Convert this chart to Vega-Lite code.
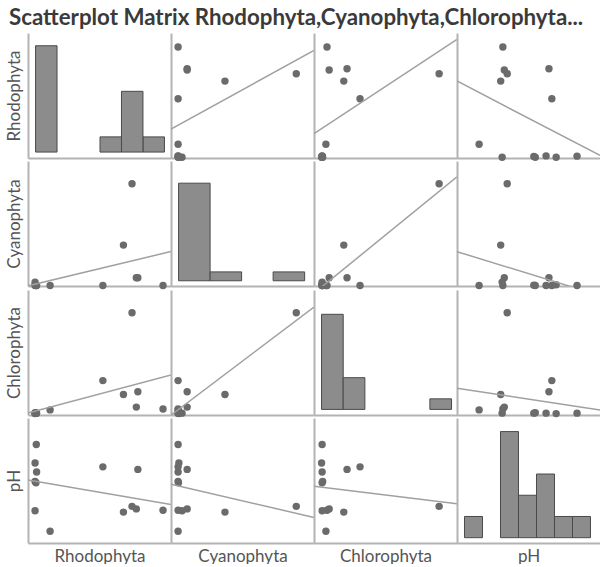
{
  "$schema": "https://vega.github.io/schema/vega-lite/v6.json",
  "padding": {"left": 5, "top": 6, "right": 0, "bottom": 0},
  "title": {"text": "Scatterplot Matrix Rhodophyta,Cyanophyta,Chlorophyta...", "anchor": "start", "frame": "bounds", "font": "Lato", "fontSize": 22.3, "fontWeight": "bold", "color": "#3a3a3a", "offset": 4, "dx": 4},
  "data": {"values": [
    {"Rhodophyta": 4.9, "Cyanophyta": 0, "Chlorophyta": 0.9, "pH": 6.96},
    {"Rhodophyta": 41.7, "Cyanophyta": 0, "Chlorophyta": 1.1, "pH": 7.29},
    {"Rhodophyta": 33.5, "Cyanophyta": 2.3, "Chlorophyta": 4.8, "pH": 7.93},
    {"Rhodophyta": 33.0, "Cyanophyta": 2.3, "Chlorophyta": 1.5, "pH": 7.31},
    {"Rhodophyta": 31.6, "Cyanophyta": 30.0, "Chlorophyta": 21.8, "pH": 7.35},
    {"Rhodophyta": 28.8, "Cyanophyta": 11.9, "Chlorophyta": 4.2, "pH": 7.26},
    {"Rhodophyta": 22.1, "Cyanophyta": 0, "Chlorophyta": 7.2, "pH": 7.97},
    {"Rhodophyta": 0, "Cyanophyta": 1.0, "Chlorophyta": 0.2, "pH": 7.28},
    {"Rhodophyta": 0.3, "Cyanophyta": 0.1, "Chlorophyta": 0.2, "pH": 7.72},
    {"Rhodophyta": 0, "Cyanophyta": 0, "Chlorophyta": 0.3, "pH": 7.74},
    {"Rhodophyta": 0.5, "Cyanophyta": 0, "Chlorophyta": 0.2, "pH": 7.89},
    {"Rhodophyta": 0, "Cyanophyta": 0.2, "Chlorophyta": 0.1, "pH": 8.03},
    {"Rhodophyta": 0.4, "Cyanophyta": 0, "Chlorophyta": 0.2, "pH": 8.32}
  ]},
  "columns": 4,
  "spacing": 0,
  "concat": [
    {"width": 143, "height": 125,
     "mark": {"type": "bar", "fill": "#8c8c8c", "stroke": "#4a4a4a", "strokeWidth": 1, "binSpacing": 0},
     "encoding": {
       "x": {"field": "Rhodophyta", "type": "quantitative", "bin": {"extent": [0, 42], "step": 7, "nice": false}, "scale": {"domain": [-2.3, 44.3], "nice": false, "zero": false}, "axis": {"title": null}},
       "y": {"aggregate": "count", "type": "quantitative", "scale": {"domain": [-0.39, 7.84], "nice": false, "zero": false}, "axis": {"title": "Rhodophyta"}}}},
    {"width": 143, "height": 125,
     "encoding": {
       "x": {"field": "Cyanophyta", "type": "quantitative", "scale": {"domain": [-1.8, 34.5], "nice": false, "zero": false}, "axis": {"title": null}},
       "y": {"field": "Rhodophyta", "type": "quantitative", "scale": {"domain": [-0.3, 47], "nice": false, "zero": false}, "axis": {"title": null}}},
     "layer": [
       {"mark": {"type": "circle", "size": 55, "color": "#6b6b6b", "opacity": 1}},
       {"transform": [{"regression": "Rhodophyta", "on": "Cyanophyta", "extent": [-1.8, 34.5]}], "mark": {"type": "line", "color": "#a0a0a0", "strokeWidth": 1.5, "clip": true}, "encoding": {}}]},
    {"width": 143, "height": 125,
     "encoding": {
       "x": {"field": "Chlorophyta", "type": "quantitative", "scale": {"domain": [-1.3, 25.1], "nice": false, "zero": false}, "axis": {"title": null}},
       "y": {"field": "Rhodophyta", "type": "quantitative", "scale": {"domain": [-0.3, 47], "nice": false, "zero": false}, "axis": {"title": null}}},
     "layer": [
       {"mark": {"type": "circle", "size": 55, "color": "#6b6b6b", "opacity": 1}},
       {"transform": [{"regression": "Rhodophyta", "on": "Chlorophyta", "extent": [-1.3, 25.1]}], "mark": {"type": "line", "color": "#a0a0a0", "strokeWidth": 1.5, "clip": true}, "encoding": {}}]},
    {"width": 143, "height": 125,
     "encoding": {
       "x": {"field": "pH", "type": "quantitative", "scale": {"domain": [6.653, 8.639], "nice": false, "zero": false}, "axis": {"title": null}},
       "y": {"field": "Rhodophyta", "type": "quantitative", "scale": {"domain": [-0.3, 47], "nice": false, "zero": false}, "axis": {"title": null}}},
     "layer": [
       {"mark": {"type": "circle", "size": 55, "color": "#6b6b6b", "opacity": 1}},
       {"transform": [{"regression": "Rhodophyta", "on": "pH", "extent": [6.653, 8.639]}], "mark": {"type": "line", "color": "#a0a0a0", "strokeWidth": 1.5, "clip": true}, "encoding": {}}]},

    {"width": 143, "height": 125,
     "encoding": {
       "x": {"field": "Rhodophyta", "type": "quantitative", "scale": {"domain": [-2.3, 44.3], "nice": false, "zero": false}, "axis": {"title": null}},
       "y": {"field": "Cyanophyta", "type": "quantitative", "scale": {"domain": [-0.15, 36.7], "nice": false, "zero": false}, "axis": {"title": "Cyanophyta"}}},
     "layer": [
       {"mark": {"type": "circle", "size": 55, "color": "#6b6b6b", "opacity": 1}},
       {"transform": [{"regression": "Cyanophyta", "on": "Rhodophyta", "extent": [-2.3, 44.3]}], "mark": {"type": "line", "color": "#a0a0a0", "strokeWidth": 1.5, "clip": true}, "encoding": {}}]},
    {"width": 143, "height": 125,
     "mark": {"type": "bar", "fill": "#8c8c8c", "stroke": "#4a4a4a", "strokeWidth": 1, "binSpacing": 0},
     "encoding": {
       "x": {"field": "Cyanophyta", "type": "quantitative", "bin": {"extent": [0, 32], "step": 8, "nice": false}, "scale": {"domain": [-1.8, 34.5], "nice": false, "zero": false}, "axis": {"title": null}},
       "y": {"aggregate": "count", "type": "quantitative", "scale": {"domain": [-0.59, 13.5], "nice": false, "zero": false}, "axis": {"title": null}}}},
    {"width": 143, "height": 125,
     "encoding": {
       "x": {"field": "Chlorophyta", "type": "quantitative", "scale": {"domain": [-1.3, 25.1], "nice": false, "zero": false}, "axis": {"title": null}},
       "y": {"field": "Cyanophyta", "type": "quantitative", "scale": {"domain": [-0.15, 36.7], "nice": false, "zero": false}, "axis": {"title": null}}},
     "layer": [
       {"mark": {"type": "circle", "size": 55, "color": "#6b6b6b", "opacity": 1}},
       {"transform": [{"regression": "Cyanophyta", "on": "Chlorophyta", "extent": [-1.3, 25.1]}], "mark": {"type": "line", "color": "#a0a0a0", "strokeWidth": 1.5, "clip": true}, "encoding": {}}]},
    {"width": 143, "height": 125,
     "encoding": {
       "x": {"field": "pH", "type": "quantitative", "scale": {"domain": [6.653, 8.639], "nice": false, "zero": false}, "axis": {"title": null}},
       "y": {"field": "Cyanophyta", "type": "quantitative", "scale": {"domain": [-0.15, 36.7], "nice": false, "zero": false}, "axis": {"title": null}}},
     "layer": [
       {"mark": {"type": "circle", "size": 55, "color": "#6b6b6b", "opacity": 1}},
       {"transform": [{"regression": "Cyanophyta", "on": "pH", "extent": [6.653, 8.639]}], "mark": {"type": "line", "color": "#a0a0a0", "strokeWidth": 1.5, "clip": true}, "encoding": {}}]},

    {"width": 143, "height": 125,
     "encoding": {
       "x": {"field": "Rhodophyta", "type": "quantitative", "scale": {"domain": [-2.3, 44.3], "nice": false, "zero": false}, "axis": {"title": null}},
       "y": {"field": "Chlorophyta", "type": "quantitative", "scale": {"domain": [-0.2, 26.7], "nice": false, "zero": false}, "axis": {"title": "Chlorophyta"}}},
     "layer": [
       {"mark": {"type": "circle", "size": 55, "color": "#6b6b6b", "opacity": 1}},
       {"transform": [{"regression": "Chlorophyta", "on": "Rhodophyta", "extent": [-2.3, 44.3]}], "mark": {"type": "line", "color": "#a0a0a0", "strokeWidth": 1.5, "clip": true}, "encoding": {}}]},
    {"width": 143, "height": 125,
     "encoding": {
       "x": {"field": "Cyanophyta", "type": "quantitative", "scale": {"domain": [-1.8, 34.5], "nice": false, "zero": false}, "axis": {"title": null}},
       "y": {"field": "Chlorophyta", "type": "quantitative", "scale": {"domain": [-0.2, 26.7], "nice": false, "zero": false}, "axis": {"title": null}}},
     "layer": [
       {"mark": {"type": "circle", "size": 55, "color": "#6b6b6b", "opacity": 1}},
       {"transform": [{"regression": "Chlorophyta", "on": "Cyanophyta", "extent": [-1.8, 34.5]}], "mark": {"type": "line", "color": "#a0a0a0", "strokeWidth": 1.5, "clip": true}, "encoding": {}}]},
    {"width": 143, "height": 125,
     "mark": {"type": "bar", "fill": "#8c8c8c", "stroke": "#4a4a4a", "strokeWidth": 1, "binSpacing": 0},
     "encoding": {
       "x": {"field": "Chlorophyta", "type": "quantitative", "bin": {"extent": [0, 24], "step": 4, "nice": false}, "scale": {"domain": [-1.3, 25.1], "nice": false, "zero": false}, "axis": {"title": null}},
       "y": {"aggregate": "count", "type": "quantitative", "scale": {"domain": [-0.53, 11.3], "nice": false, "zero": false}, "axis": {"title": null}}}},
    {"width": 143, "height": 125,
     "encoding": {
       "x": {"field": "pH", "type": "quantitative", "scale": {"domain": [6.653, 8.639], "nice": false, "zero": false}, "axis": {"title": null}},
       "y": {"field": "Chlorophyta", "type": "quantitative", "scale": {"domain": [-0.2, 26.7], "nice": false, "zero": false}, "axis": {"title": null}}},
     "layer": [
       {"mark": {"type": "circle", "size": 55, "color": "#6b6b6b", "opacity": 1}},
       {"transform": [{"regression": "Chlorophyta", "on": "pH", "extent": [6.653, 8.639]}], "mark": {"type": "line", "color": "#a0a0a0", "strokeWidth": 1.5, "clip": true}, "encoding": {}}]},

    {"width": 143, "height": 125,
     "encoding": {
       "x": {"field": "Rhodophyta", "type": "quantitative", "scale": {"domain": [-2.3, 44.3], "nice": false, "zero": false}, "axis": {"title": "Rhodophyta"}},
       "y": {"field": "pH", "type": "quantitative", "scale": {"domain": [6.775, 8.737], "nice": false, "zero": false}, "axis": {"title": "pH"}}},
     "layer": [
       {"mark": {"type": "circle", "size": 55, "color": "#6b6b6b", "opacity": 1}},
       {"transform": [{"regression": "pH", "on": "Rhodophyta", "extent": [-2.3, 44.3]}], "mark": {"type": "line", "color": "#a0a0a0", "strokeWidth": 1.5, "clip": true}, "encoding": {}}]},
    {"width": 143, "height": 125,
     "encoding": {
       "x": {"field": "Cyanophyta", "type": "quantitative", "scale": {"domain": [-1.8, 34.5], "nice": false, "zero": false}, "axis": {"title": "Cyanophyta"}},
       "y": {"field": "pH", "type": "quantitative", "scale": {"domain": [6.775, 8.737], "nice": false, "zero": false}, "axis": {"title": null}}},
     "layer": [
       {"mark": {"type": "circle", "size": 55, "color": "#6b6b6b", "opacity": 1}},
       {"transform": [{"regression": "pH", "on": "Cyanophyta", "extent": [-1.8, 34.5]}], "mark": {"type": "line", "color": "#a0a0a0", "strokeWidth": 1.5, "clip": true}, "encoding": {}}]},
    {"width": 143, "height": 125,
     "encoding": {
       "x": {"field": "Chlorophyta", "type": "quantitative", "scale": {"domain": [-1.3, 25.1], "nice": false, "zero": false}, "axis": {"title": "Chlorophyta"}},
       "y": {"field": "pH", "type": "quantitative", "scale": {"domain": [6.775, 8.737], "nice": false, "zero": false}, "axis": {"title": null}}},
     "layer": [
       {"mark": {"type": "circle", "size": 55, "color": "#6b6b6b", "opacity": 1}},
       {"transform": [{"regression": "pH", "on": "Chlorophyta", "extent": [-1.3, 25.1]}], "mark": {"type": "line", "color": "#a0a0a0", "strokeWidth": 1.5, "clip": true}, "encoding": {}}]},
    {"width": 143, "height": 125,
     "mark": {"type": "bar", "fill": "#8c8c8c", "stroke": "#4a4a4a", "strokeWidth": 1, "binSpacing": 0},
     "encoding": {
       "x": {"field": "pH", "type": "quantitative", "bin": {"extent": [6.75, 8.5], "step": 0.25, "nice": false}, "scale": {"domain": [6.653, 8.639], "nice": false, "zero": false}, "axis": {"title": "pH"}},
       "y": {"aggregate": "count", "type": "quantitative", "scale": {"domain": [-0.25, 5.64], "nice": false, "zero": false}, "axis": {"title": null}}}}
  ],
  "config": {
    "view": {"stroke": null},
    "concat": {"spacing": 0},
    "axis": {"labels": false, "ticks": false, "grid": false, "domainColor": "#b3b3b3", "domainWidth": 2, "titleFont": "Lato", "titleFontSize": 17, "titleFontWeight": "normal", "titleColor": "#555555", "titlePadding": 5}
  }
}
